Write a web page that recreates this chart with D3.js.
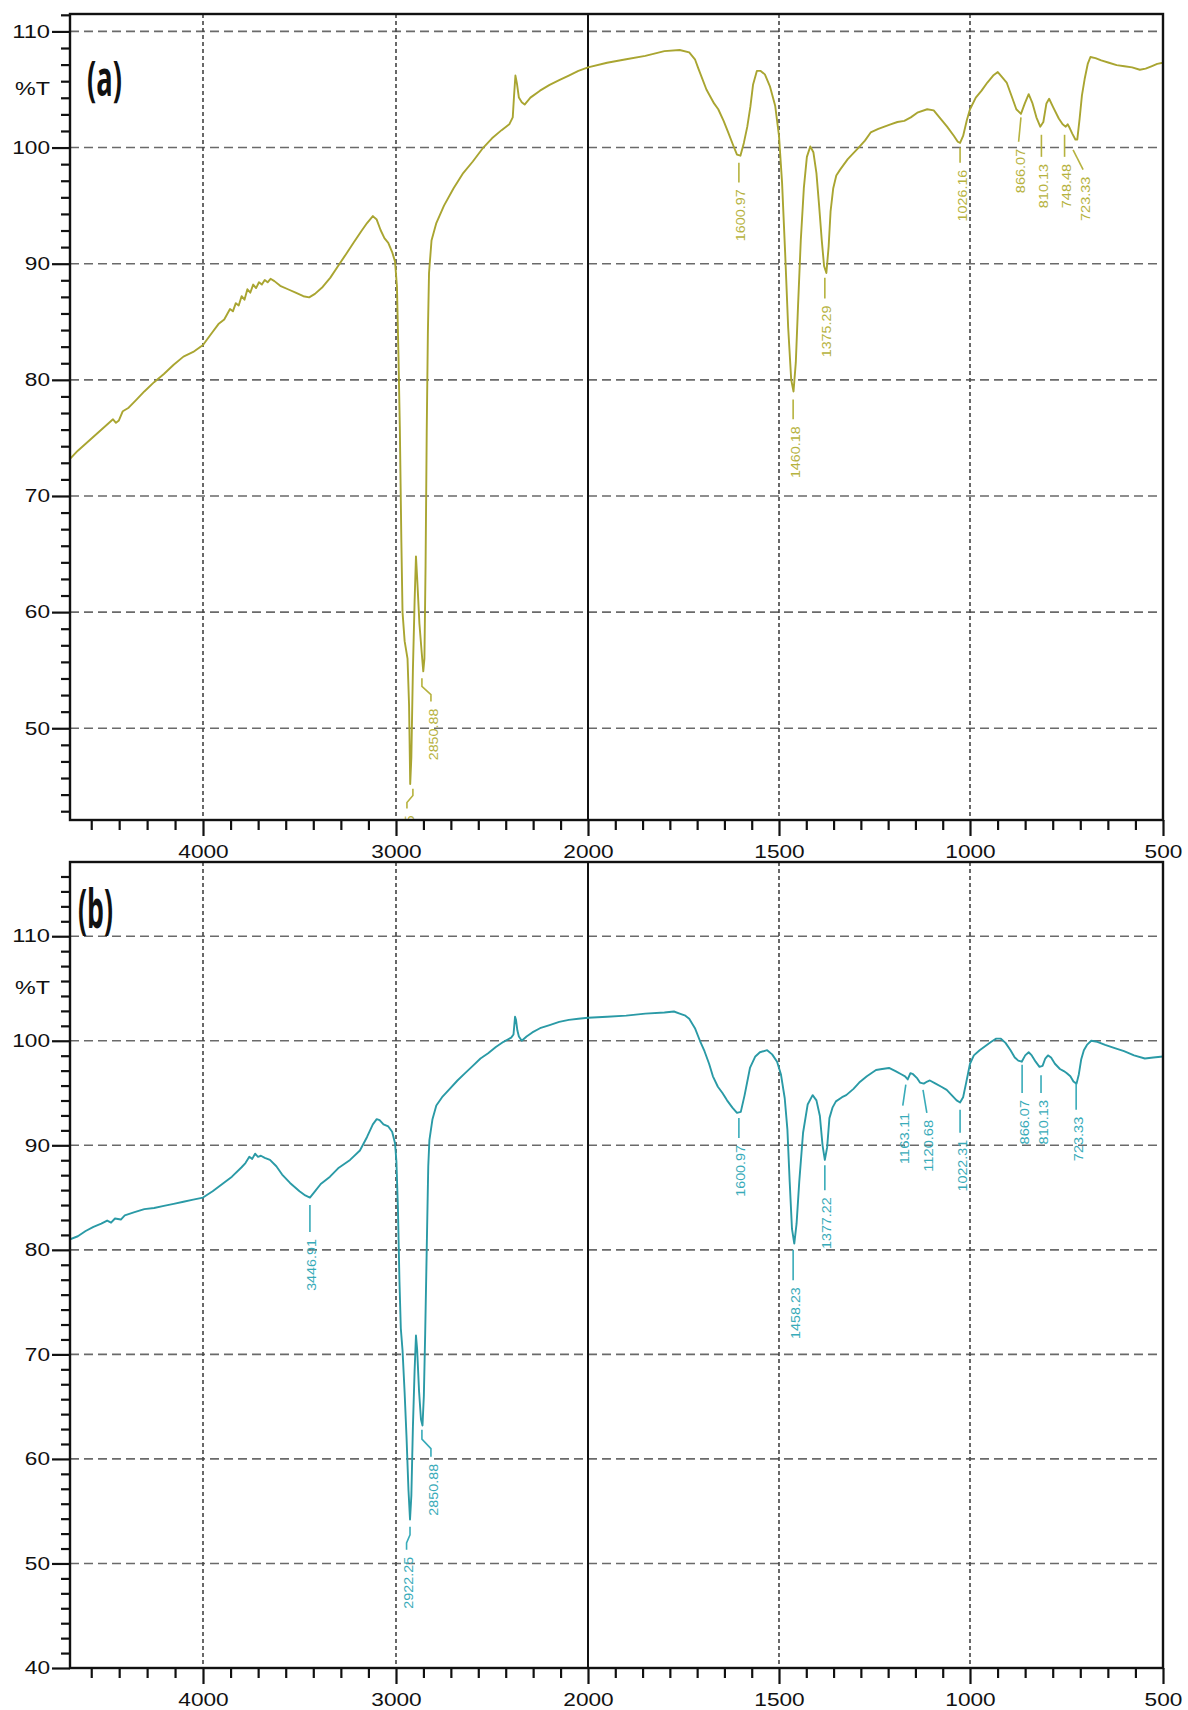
<!DOCTYPE html>
<html>
<head>
<meta charset="utf-8">
<script src="https://cdn.jsdelivr.net/npm/d3@7"></script>
<style>
  body { margin: 0; background: #fff; }
  svg { display: block; }
</style>
</head>
<body>
<script>
"use strict";

// axis ticks (wavenumber, cm-1, and %T)
var xTicks = [4000, 3000, 2000, 1500, 1000, 500];
var yTicksA = [50, 60, 70, 80, 90, 100, 110];
var yTicksB = [40, 50, 60, 70, 80, 90, 100, 110];

// spectrum (a)
var wnA = [4680, 4640, 4600, 4560, 4520, 4480, 4460, 4445, 4430, 4410, 4380, 4340, 4300, 4250, 4200, 4150, 4100, 4050, 4000,
  3960, 3920, 3890, 3860, 3845, 3830, 3815, 3800, 3785, 3770, 3755, 3740, 3725, 3710, 3695, 3680, 3665, 3650, 3630, 3600,
  3560, 3520, 3480, 3450, 3420, 3380, 3340, 3300, 3260, 3220, 3180, 3150, 3120, 3100, 3080, 3060, 3040, 3020, 3005,
  2995, 2987, 2980, 2972, 2966, 2955, 2940, 2932, 2926, 2920, 2912, 2903, 2896, 2890, 2878, 2866, 2858, 2852, 2846, 2840,
  2834, 2828, 2815, 2790, 2750, 2700, 2650, 2600, 2550, 2500, 2450, 2410, 2392, 2385, 2378, 2370, 2360, 2345, 2330, 2300,
  2250, 2200, 2150, 2100, 2050, 2000, 1950, 1900, 1850, 1800, 1760, 1735, 1720, 1711, 1690, 1670, 1659, 1645, 1633, 1620,
  1610, 1601, 1592, 1583, 1575, 1568, 1558, 1548, 1537, 1524, 1510, 1500, 1492, 1484, 1476, 1468, 1462, 1456, 1450, 1443,
  1435, 1427, 1418, 1410, 1402, 1395, 1388, 1382, 1376, 1370, 1365, 1358, 1350, 1340, 1320, 1294, 1275, 1260, 1240, 1208,
  1190, 1172, 1155, 1138, 1112, 1095, 1080, 1060, 1042, 1032, 1026, 1018, 1008, 1000, 985, 970, 955, 940, 928, 918, 905,
  893, 880, 868, 858, 848, 838, 828, 818, 810, 802, 795, 785, 770, 760, 752, 747, 742, 735, 727, 722, 716, 710, 703, 695,
  688, 675, 660, 640, 620, 600, 580, 560, 545, 530, 515, 500];
var tA = [73.2, 73.9, 74.5, 75.1, 75.7, 76.3, 76.6, 76.3, 76.5, 77.3, 77.6, 78.3, 79.0, 79.8, 80.5, 81.3, 82.0, 82.4, 83.0,
  83.9, 84.8, 85.2, 86.1, 85.9, 86.6, 86.4, 87.2, 86.9, 87.8, 87.5, 88.2, 87.9, 88.4, 88.2, 88.6, 88.4, 88.7, 88.5, 88.1,
  87.8, 87.5, 87.2, 87.1, 87.4, 88.0, 88.8, 89.8, 90.8, 91.8, 92.8, 93.5, 94.1, 93.8, 92.9, 92.2, 91.8, 91.0, 90.2,
  88.0, 82.0, 75.8, 66.0, 60.0, 57.5, 56.0, 52.0, 45.2, 47.5, 55.0, 61.0, 64.8, 63.0, 59.0, 56.5, 54.9, 56.0, 64.0, 75.5,
  84.0, 89.2, 92.0, 93.5, 95.0, 96.5, 97.8, 98.8, 99.9, 100.8, 101.5, 102.0, 102.6, 104.5, 106.2, 105.5, 104.3, 103.9, 103.7, 104.3,
  104.9, 105.4, 105.8, 106.2, 106.6, 106.9, 107.3, 107.6, 107.9, 108.3, 108.4, 108.2, 107.6, 106.8, 105.0, 103.8, 103.3, 102.3, 101.3, 100.2,
  99.4, 99.3, 100.4, 101.8, 103.5, 105.4, 106.6, 106.6, 106.3, 105.3, 103.6, 101.0, 97.0, 91.0, 84.5, 80.0, 79.0, 81.5, 86.5, 92.0,
  96.5, 99.2, 100.1, 99.6, 97.8, 95.0, 92.0, 89.8, 89.2, 91.5, 94.5, 96.5, 97.6, 98.1, 99.0, 99.9, 100.6, 101.3, 101.6, 102.0,
  102.2, 102.3, 102.6, 103.0, 103.3, 103.2, 102.6, 101.8, 101.0, 100.5, 100.4, 101.0, 102.4, 103.3, 104.3, 104.9, 105.6, 106.2, 106.5, 106.1, 105.6,
  104.5, 103.3, 102.9, 103.8, 104.6, 103.8, 102.6, 101.8, 102.2, 103.8, 104.2, 103.5, 102.5, 102.0, 101.8, 102.0, 101.7, 101.2, 100.7, 100.7, 102.5, 104.5, 105.9, 107.2,
  107.8, 107.7, 107.5, 107.3, 107.1, 107.0, 106.9, 106.7, 106.8, 107.0, 107.2, 107.3];

// spectrum (b)
var wnB = [4680, 4640, 4600, 4560, 4520, 4490, 4470, 4450, 4420, 4400, 4350, 4300, 4250, 4200, 4150, 4100, 4050, 4000,
  3950, 3900, 3850, 3800, 3780, 3760, 3745, 3730, 3715, 3700, 3680, 3653, 3620, 3590, 3549, 3500, 3470, 3446, 3420, 3390,
  3342, 3300, 3238, 3187, 3150, 3120, 3100, 3085, 3065, 3040, 3020, 3005, 2998, 2990, 2982, 2975, 2966, 2955, 2945, 2935,
  2927, 2920, 2912, 2903, 2896, 2890, 2880, 2870, 2862, 2855, 2848, 2840, 2832, 2826, 2810, 2790, 2760, 2720, 2680, 2640,
  2600, 2560, 2520, 2480, 2440, 2400, 2388, 2380, 2375, 2368, 2360, 2345, 2320, 2290, 2250, 2200, 2150, 2100, 2050, 2000,
  1950, 1900, 1850, 1800, 1775, 1760, 1745, 1735, 1720, 1707, 1695, 1683, 1673, 1660, 1648, 1636, 1622, 1610, 1600, 1590,
  1576, 1562, 1550, 1531, 1518, 1505, 1495, 1485, 1478, 1472, 1466, 1460, 1454, 1447, 1437, 1425, 1412, 1402, 1393, 1386,
  1380, 1374, 1368, 1360, 1351, 1335, 1324, 1305, 1290, 1270, 1246, 1230, 1212, 1195, 1180, 1170, 1163, 1156, 1149, 1138,
  1131, 1121, 1112, 1105, 1090, 1075, 1061, 1048, 1035, 1026, 1018, 1010, 1000, 990, 975, 960, 945, 932, 920, 908, 895,
  884, 875, 866, 857, 848, 840, 830, 820, 812, 805, 798, 790, 780, 767, 757, 749, 740, 732, 724, 718, 712, 705, 697, 686,
  670, 650, 625, 601, 575, 547, 525, 500];
var tB = [81.0, 81.3, 81.8, 82.2, 82.5, 82.8, 82.6, 83.0, 82.9, 83.3, 83.6, 83.9, 84.0, 84.2, 84.4, 84.6, 84.8, 85.0,
  85.6, 86.3, 87.0, 87.9, 88.3, 88.9, 88.7, 89.2, 88.9, 89.0, 88.8, 88.6, 88.0, 87.2, 86.4, 85.6, 85.2, 85.0, 85.6, 86.3,
  87.0, 87.8, 88.6, 89.5, 90.8, 92.0, 92.5, 92.4, 92.0, 91.8, 91.3, 90.2, 88.5, 84.0, 77.0, 72.5, 70.4, 66.3, 62.0, 57.0,
  54.2, 56.5, 63.0, 68.5, 71.8, 70.5, 66.5, 63.8, 63.2, 66.0, 72.0, 80.0, 88.0, 90.5, 92.5, 93.8, 94.6, 95.4, 96.2, 96.9,
  97.6, 98.3, 98.8, 99.4, 99.9, 100.3, 100.6, 102.3, 102.0, 101.0, 100.4, 100.0, 100.4, 100.8, 101.2, 101.5, 101.8, 102.0, 102.1, 102.2,
  102.3, 102.4, 102.6, 102.7, 102.8, 102.6, 102.4, 102.1, 101.2, 100.0, 99.0, 97.8, 96.6, 95.6, 95.0, 94.3, 93.6, 93.1, 93.2, 94.8,
  97.4, 98.5, 98.9, 99.1, 98.7, 98.0, 96.8, 94.5, 91.5, 86.5, 82.0, 80.6, 82.5, 86.5, 91.2, 93.9, 94.8, 94.3, 92.8, 90.0,
  88.6, 89.8, 92.6, 93.6, 94.2, 94.6, 94.8, 95.4, 96.0, 96.6, 97.2, 97.3, 97.4, 97.1, 96.8, 96.6, 96.3, 96.9, 96.8, 96.4,
  96.0, 95.9, 96.1, 96.2, 95.9, 95.6, 95.3, 94.8, 94.3, 94.1, 94.6, 96.0, 97.8, 98.6, 99.1, 99.5, 99.9, 100.2, 100.2, 99.8, 99.1,
  98.4, 98.1, 98.0, 98.6, 98.9, 98.6, 98.0, 97.5, 97.6, 98.3, 98.6, 98.4, 97.8, 97.3, 97.1, 96.9, 96.6, 96.1, 95.9, 96.8, 98.2, 99.1, 99.6, 100.0,
  99.9, 99.6, 99.3, 99.0, 98.6, 98.3, 98.4, 98.5];

// peak labels: text, wavenumber under the label, %T where the marker starts and ends
var peaksA = [
  {text: "1600.97", wn: 1605, tTop: 98.7, tBot: 97.0},
  {text: "1460.18", wn: 1463, tTop: 78.3, tBot: 76.6},
  {text: "1375.29", wn: 1380, tTop: 88.8, tBot: 87.0},
  {text: "1026.16", wn: 1026, tTop: 100.0, tBot: 98.7},
  {text: "866.07", wn: 874, wnTop: 868, tTop: 102.6, tBot: 100.5},
  {text: "810.13", wn: 815, tTop: 101.1, tBot: 99.2},
  {text: "748.48", wn: 755, tTop: 101.1, tBot: 99.2},
  {text: "723.33", wn: 707, wnTop: 733, tTop: 99.8, tBot: 98.1},
  {text: "2850.88", wn: 2818, wnTop: 2865, tTop: 54.3, tBot: 52.3, wiggle: true},
  {text: "2922.25", wn: 2943, wnTop: 2912, tTop: 44.8, tBot: 43.1, wiggle: true}
];
var peaksB = [
  {text: "3446.91", wn: 3446, tTop: 84.3, tBot: 81.7},
  {text: "2922.25", wn: 2945, wnTop: 2927, tTop: 53.5, tBot: 51.3, wiggle: true},
  {text: "2850.88", wn: 2818, wnTop: 2865, tTop: 62.8, tBot: 60.2, wiggle: true},
  {text: "1600.97", wn: 1605, tTop: 92.6, tBot: 90.7},
  {text: "1458.23", wn: 1463, tTop: 80.0, tBot: 77.1},
  {text: "1377.22", wn: 1380, tTop: 88.1, tBot: 85.7},
  {text: "1163.11", wn: 1176, wnTop: 1168, tTop: 95.8, tBot: 93.8},
  {text: "1120.68", wn: 1113, wnTop: 1123, tTop: 95.3, tBot: 93.1},
  {text: "1022.31", wn: 1026, tTop: 93.4, tBot: 91.2},
  {text: "866.07", wn: 865, tTop: 97.7, tBot: 95.0},
  {text: "810.13", wn: 816, tTop: 96.7, tBot: 95.0},
  {text: "723.33", wn: 725, tTop: 95.9, tBot: 93.4}
];

var W = 1188, H = 1710;
var svg = d3.select("body").append("svg").attr("width", W).attr("height", H);

// broken wavenumber axis: 4000-2000 is squeezed to half the scale of 2000-500
var x = d3.scaleLinear()
  .domain([4680, 4000, 3000, 2000, 1500, 1000, 500])
  .range([70, 203, 396, 588, 779, 970, 1163]);

function minors(majors, scale) {
  var out = [], i, k, step, v, ext = d3.extent(scale.domain()), n = majors.length;
  function inside(d) { return d > ext[0] + 1e-6 && d < ext[1] - 1e-6; }
  for (i = 0; i < n - 1; i += 1) {
    step = (majors[i + 1] - majors[i]) / 7;
    for (k = 1; k < 7; k += 1) { out.push(majors[i] + k * step); }
  }
  step = (majors[1] - majors[0]) / 7;
  for (v = majors[0] - step; inside(v); v -= step) { out.push(v); }
  step = (majors[n - 1] - majors[n - 2]) / 7;
  for (v = majors[n - 1] + step; inside(v); v += step) { out.push(v); }
  return out;
}

function stretch(sel, perChar) {
  sel.attr("textLength", function () { return this.textContent.length * perChar; })
    .attr("lengthAdjust", "spacingAndGlyphs");
}

function panel(p) {
  var y = d3.scaleLinear().domain(p.yDomain).range([p.bottom, p.top]);
  var left = x.range()[0], right = x.range()[x.range().length - 1];
  var g = svg.append("g");
  var clipId = "clip-" + p.name;

  g.append("clipPath").attr("id", clipId).append("rect")
    .attr("x", left).attr("y", p.top).attr("width", right - left).attr("height", p.bottom - p.top);

  // grid
  g.append("g").selectAll("line").data(p.yTicks.filter(function (d) { return d > p.yDomain[0]; }))
    .join("line")
    .attr("x1", left).attr("x2", right)
    .attr("y1", function (d) { return y(d); }).attr("y2", function (d) { return y(d); })
    .attr("stroke", "#6a6a6a").attr("stroke-width", 1.6).attr("stroke-dasharray", "9,5");
  g.append("g").selectAll("line").data(xTicks.filter(function (d) { return d !== 500; }))
    .join("line")
    .attr("x1", function (d) { return x(d); }).attr("x2", function (d) { return x(d); })
    .attr("y1", p.top).attr("y2", p.bottom)
    .attr("stroke", function (d) { return d === 2000 ? "#111" : "#444"; })
    .attr("stroke-width", function (d) { return d === 2000 ? 2 : 1.6; })
    .attr("stroke-dasharray", function (d) { return d === 2000 ? null : "4,3"; });

  // spectrum
  var pts = d3.zip(p.wn, p.t);
  g.append("path").datum(pts)
    .attr("clip-path", "url(#" + clipId + ")")
    .attr("fill", "none").attr("stroke", p.color).attr("stroke-width", 1.9)
    .attr("stroke-linejoin", "round")
    .attr("d", d3.line().x(function (d) { return x(d[0]); }).y(function (d) { return y(d[1]); }));

  // peak markers
  var pk = g.append("g").attr("clip-path", "url(#" + clipId + ")")
    .selectAll("g").data(p.peaks).join("g");
  pk.append("path")
    .attr("fill", "none").attr("stroke", p.labelColor).attr("stroke-width", 1.6)
    .attr("d", function (d) {
      var x1 = x(d.wnTop === undefined ? d.wn : d.wnTop), x2 = x(d.wn);
      var y1 = y(d.tTop), y2 = y(d.tBot), h = y2 - y1;
      if (d.wiggle) {
        return "M" + x1 + "," + y1 + "L" + x1 + "," + (y1 + 0.35 * h) +
          "L" + x2 + "," + (y1 + 0.7 * h) + "L" + x2 + "," + y2;
      }
      return "M" + x1 + "," + y1 + "L" + x2 + "," + y2;
    });
  pk.append("text")
    .attr("transform", function (d) { return "translate(" + (x(d.wn) + 2) + "," + (y(d.tBot) + 7) + ") rotate(-90)"; })
    .attr("text-anchor", "end").attr("dy", "0.35em")
    .attr("font-family", "Liberation Sans, Arial, sans-serif").attr("font-size", 13)
    .attr("fill", p.labelColor)
    .text(function (d) { return d.text; })
    .call(stretch, 7.4);

  // axes
  var ax = g.append("g").attr("transform", "translate(0," + p.bottom + ")");
  ax.call(d3.axisBottom(x).tickValues(minors(xTicks, x)).tickSize(10).tickSizeOuter(0).tickFormat(""));
  ax.append("g").call(d3.axisBottom(x).tickValues(xTicks).tickSize(16).tickSizeOuter(0).tickFormat(d3.format("d")));
  var ay = g.append("g").attr("transform", "translate(" + left + ",0)");
  ay.call(d3.axisLeft(y).tickValues(minors(p.yTicks, y)).tickSize(9).tickSizeOuter(0).tickFormat(""));
  ay.append("g").call(d3.axisLeft(y).tickValues(p.yTicks).tickSize(18).tickSizeOuter(0).tickFormat(d3.format("d")));
  g.selectAll(".domain").remove();
  g.selectAll(".tick line").attr("stroke", "#111").attr("stroke-width", 2.2);
  g.selectAll(".tick text")
    .attr("font-family", "Liberation Sans, Arial, sans-serif").attr("font-size", 18).attr("fill", "#111");
  ax.selectAll(".tick text").attr("y", 25).call(stretch, 12.6);
  ay.selectAll(".tick text").attr("x", -20).call(stretch, 12.6);

  // frame
  g.append("rect")
    .attr("x", left).attr("y", p.top).attr("width", right - left).attr("height", p.bottom - p.top)
    .attr("fill", "none").attr("stroke", "#111").attr("stroke-width", 2.4);

  g.append("text").attr("x", 15).attr("y", y(p.unitAt) + 6)
    .attr("font-family", "Liberation Sans, Arial, sans-serif").attr("font-size", 18).attr("fill", "#111")
    .text("%T").attr("textLength", 35).attr("lengthAdjust", "spacingAndGlyphs");

  g.append("text").attr("x", p.letterX).attr("y", p.letterY)
    .attr("font-family", "Open Sans, sans-serif").attr("font-weight", "bold")
    .attr("font-size", p.letterSize).attr("fill", "#111")
    .text(p.letter).attr("textLength", 35).attr("lengthAdjust", "spacingAndGlyphs");
}

panel({
  name: "a", top: 14, bottom: 820, yDomain: [42.1, 111.5], yTicks: yTicksA,
  wn: wnA, t: tA, peaks: peaksA, color: "#a9a531", labelColor: "#b6b23e",
  unitAt: 105, letter: "(a)", letterX: 87, letterY: 96, letterSize: 48
});
panel({
  name: "b", top: 862, bottom: 1668, yDomain: [40, 117.1], yTicks: yTicksB,
  wn: wnB, t: tB, peaks: peaksB, color: "#2a9aa6", labelColor: "#38abb9",
  unitAt: 105, letter: "(b)", letterX: 78, letterY: 928, letterSize: 54
});
</script>
</body>
</html>
